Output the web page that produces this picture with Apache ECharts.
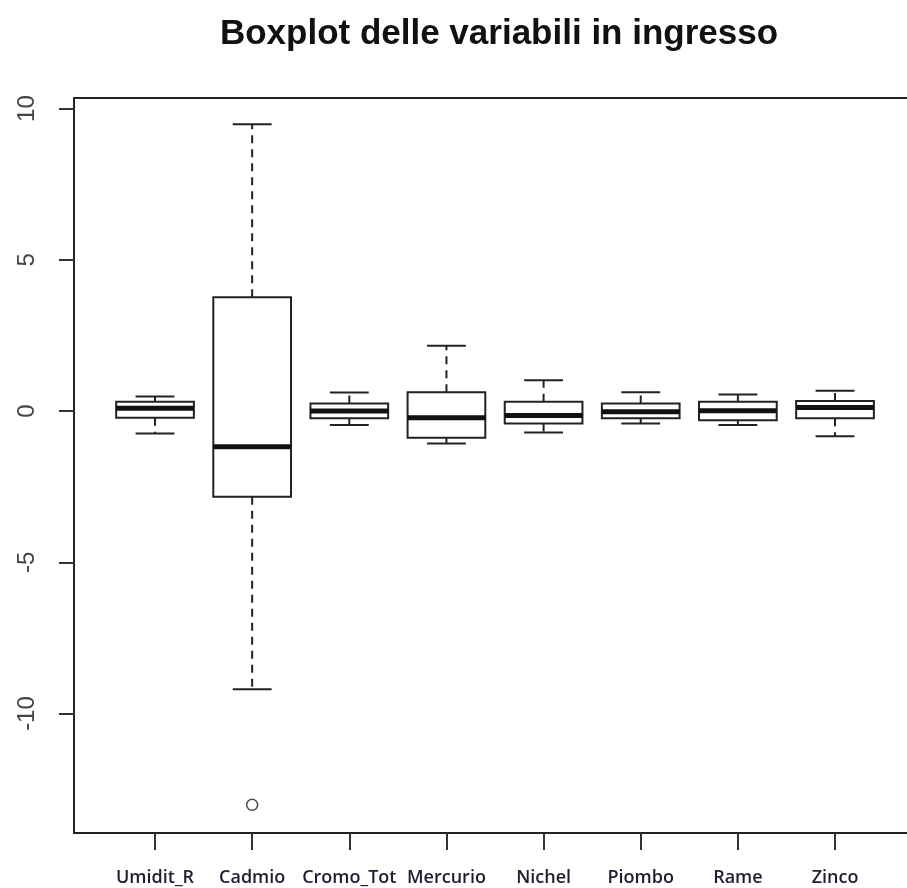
<!DOCTYPE html>
<html>
<head>
<meta charset="utf-8">
<title>Boxplot delle variabili in ingresso</title>
<script src="https://cdn.jsdelivr.net/npm/echarts@6/dist/echarts.min.js"></script>
<style>
  html, body { margin: 0; padding: 0; background: #ffffff; }
  #chart { width: 907px; height: 888px; }
</style>
</head>
<body>
<div id="chart"></div>
<script>
// variabili e statistiche
const variabili = ['Umidit_R', 'Cadmio', 'Cromo_Tot', 'Mercurio', 'Nichel', 'Piombo', 'Rame', 'Zinco'];
const baffoInf = [-0.74, -9.20, -0.46, -1.07, -0.71, -0.41, -0.46, -0.83];
const quartile1 = [-0.22, -2.83, -0.24, -0.88, -0.41, -0.24, -0.30, -0.24];
const mediane = [0.09, -1.18, 0.00, -0.22, -0.15, -0.02, 0.01, 0.12];
const quartile3 = [0.31, 3.76, 0.25, 0.62, 0.31, 0.25, 0.31, 0.33];
const baffoSup = [0.48, 9.48, 0.61, 2.16, 1.02, 0.62, 0.55, 0.67];
const outliers = [[2, -13.02]];
const yTicks = [-10, -5, 0, 5, 10];
const xTicks = [1, 2, 3, 4, 5, 6, 7, 8];

const boxData = variabili.map((v, i) => [i + 1, baffoInf[i], quartile1[i], mediane[i], quartile3[i], baffoSup[i]]);

const chart = echarts.init(document.getElementById('chart'));

function renderBox(params, api) {
    const x = api.value(0);
    const lo = api.coord([x, api.value(1)]);
    const q1 = api.coord([x, api.value(2)]);
    const md = api.coord([x, api.value(3)]);
    const q3 = api.coord([x, api.value(4)]);
    const hi = api.coord([x, api.value(5)]);
    const w = api.size([0.8, 0])[0];
    const cx = lo[0];
    const cap = w / 4;
    const solid = { stroke: '#222', lineWidth: 2, fill: null };
    const dashed = { stroke: '#222', lineWidth: 2, lineDash: [8, 6] };
    return {
        type: 'group',
        children: [
            { type: 'line', shape: { x1: cx, y1: q3[1], x2: cx, y2: hi[1] }, style: dashed },
            { type: 'line', shape: { x1: cx, y1: q1[1], x2: cx, y2: lo[1] }, style: dashed },
            { type: 'line', shape: { x1: cx - cap, y1: hi[1], x2: cx + cap, y2: hi[1] }, style: solid },
            { type: 'line', shape: { x1: cx - cap, y1: lo[1], x2: cx + cap, y2: lo[1] }, style: solid },
            { type: 'rect', shape: { x: cx - w / 2, y: q3[1], width: w, height: q1[1] - q3[1] }, style: { stroke: '#222', lineWidth: 2, fill: '#ffffff' } },
            { type: 'line', shape: { x1: cx - w / 2, y1: md[1], x2: cx + w / 2, y2: md[1] }, style: { stroke: '#111', lineWidth: 5 } }
        ]
    };
}

const frameLine = { show: true, onZero: false, lineStyle: { color: '#222', width: 2 } };

const option = {
    backgroundColor: '#ffffff',
    animation: false,
    title: {
        text: 'Boxplot delle variabili in ingresso',
        left: 494,
        top: 12,
        textAlign: 'center',
        textStyle: { fontFamily: 'Liberation Sans', fontWeight: 'bold', fontSize: 35, color: '#111' }
    },
    grid: {
        left: 74,
        top: 98,
        right: 0,
        height: 735
    },
    xAxis: [
        {
            type: 'value',
            position: 'bottom',
            min: 0.166,
            max: 8.741,
            axisLine: frameLine,
            splitLine: { show: false },
            axisTick: { show: true, customValues: xTicks, length: 17, lineStyle: { color: '#333', width: 2 } },
            axisLabel: {
                customValues: xTicks,
                margin: 36,
                fontFamily: 'Open Sans',
                fontWeight: 600,
                fontSize: 18,
                color: '#1e1e30',
                formatter: v => variabili[Math.round(v) - 1] || ''
            }
        },
        {
            type: 'value',
            position: 'top',
            min: 0.166,
            max: 8.741,
            axisLine: frameLine,
            axisTick: { show: false },
            axisLabel: { show: false },
            splitLine: { show: false }
        }
    ],
    yAxis: {
        type: 'value',
        min: -13.95,
        max: 10.35,
        axisLine: frameLine,
        splitLine: { show: false },
        axisTick: { show: true, customValues: yTicks, length: 15, lineStyle: { color: '#333', width: 2 } },
        axisLabel: {
            customValues: yTicks,
            rotate: 90,
            margin: 35,
            fontFamily: 'Liberation Sans',
            fontSize: 24,
            color: '#444'
        }
    },
    series: [
        {
            name: 'box',
            type: 'custom',
            renderItem: renderBox,
            encode: { x: 0, y: [1, 2, 3, 4, 5] },
            data: boxData
        },
        {
            name: 'outlier',
            type: 'scatter',
            symbol: 'circle',
            symbolSize: 11,
            itemStyle: { color: '#ffffff', borderColor: '#222', borderWidth: 1.5 },
            data: outliers
        }
    ]
};

chart.setOption(option);
</script>
</body>
</html>
